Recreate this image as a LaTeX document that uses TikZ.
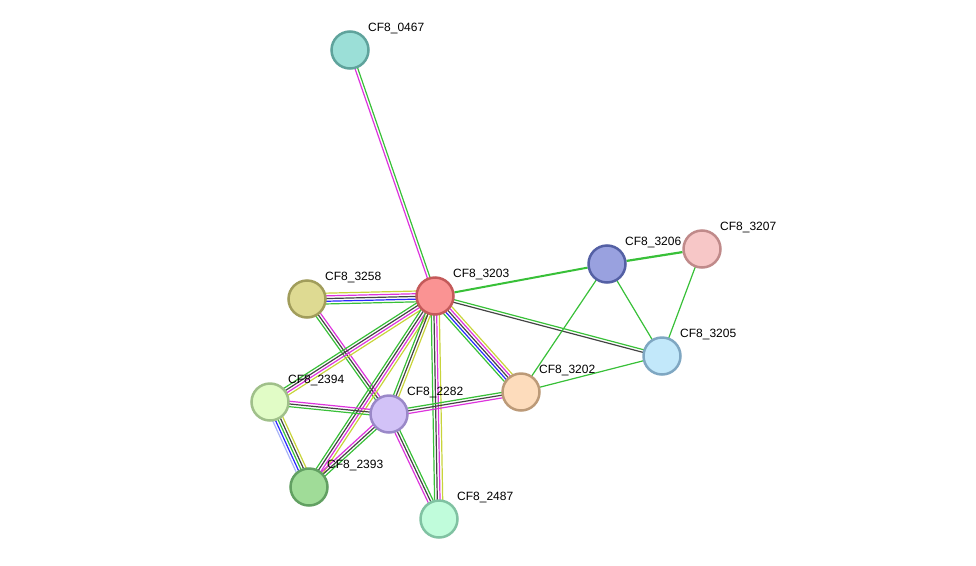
\documentclass[tikz,border=0pt]{standalone}
\usepackage{fontspec}
\setmainfont{Liberation Sans}
\usetikzlibrary{calc,backgrounds}

\begin{document}
\begin{tikzpicture}[x=1pt,y=-1pt,
  prot/.style={circle,draw,line width=2.5pt,minimum size=37pt,inner sep=0pt},
  lbl/.style={anchor=west,inner sep=0pt,font=\fontsize{12}{14}\selectfont},
  edge/.style={line width=1.2pt}]
  \definecolor{egrn}{HTML}{38C038}
  \definecolor{emag}{HTML}{DD33DD}
  \definecolor{ecoe}{HTML}{444444}
  \definecolor{etxt}{HTML}{C8D43A}
  \definecolor{eblu}{HTML}{2A2AFF}
  \definecolor{edbs}{HTML}{A8B4F8}
  \def\gap{2.7}
  % \bundle{from}{to}{colours, one parallel line each}
  \newcommand{\bundle}[3]{%
    \foreach \col [count=\i] in {#3}{\xdef\nb{\i}}
    \foreach \col [count=\i] in {#3}{
      \pgfmathsetmacro{\off}{(\i-(\nb+1)/2)*\gap}
      \draw[edge,\col] let \p1=($(#2)-(#1)$), \n1={atan2(\y1,\x1)+90} in
        ($(#1)+(\n1:\off pt)$) -- ($(#2)+(\n1:\off pt)$);}}
  \useasboundingbox (0,0) rectangle (976,565);

  % the proteins
  \foreach \n/\x/\y/\f/\b in {0467/350/50/9BDFD7/5FA39C,
      3203/435/296/FA9393/C45A5A, 3258/307/299/DEDA92/A19D5B,
      3206/607/264/99A1DF/5460A4, 3207/702/249/F7C7C7/C08A8A,
      3205/662/356/C2E8FA/7FA7C2, 3202/521/392/FDDCBC/BC9A78,
      2394/270/402/E1FCC6/A0C08A, 2282/389/414/D2C2F7/9A88C8,
      2393/309/487/A0DC98/62A062, 2487/439/519/C0FCDB/80C2A2}{
    \definecolor{f\n}{HTML}{\f}
    \definecolor{b\n}{HTML}{\b}
    \node[prot,fill=f\n,draw=b\n] (n\n) at (\x,\y) {};
    \node[lbl] (l\n) at ($(n\n)+(18,-21.5)$) {CF8\_\n};}

  % the interactions
  \begin{scope}[on background layer]
    \bundle{n0467}{n3203}{emag,egrn}
    \bundle{n3258}{n3203}{egrn,eblu,ecoe,emag,etxt}
    \bundle{n3258}{n2282}{egrn,ecoe,emag}
    \bundle{n3203}{n2394}{egrn,ecoe,emag,etxt}
    \bundle{n3203}{n2393}{egrn,ecoe,emag,etxt}
    \bundle{n3203}{n2282}{egrn,ecoe,etxt}
    \bundle{n3203}{n2487}{egrn,ecoe,emag,etxt}
    \bundle{n3203}{n3202}{egrn,eblu,ecoe,emag,etxt}
    \bundle{n3203}{n3205}{ecoe,egrn}
    \draw[edge,egrn,line width=2pt] (n3203) -- (n3206);
    \draw[edge,egrn,line width=2.2pt] (n3206) -- (n3207);
    \bundle{n3206}{n3205}{egrn}
    \bundle{n3206}{n3202}{egrn}
    \bundle{n3207}{n3205}{egrn}
    \bundle{n3202}{n3205}{egrn}
    \bundle{n2282}{n3202}{emag,ecoe,egrn}
    \bundle{n2394}{n2282}{egrn,ecoe,emag}
    \bundle{n2394}{n2393}{edbs,eblu,egrn,ecoe,etxt}
    \bundle{n2282}{n2487}{emag,ecoe,egrn}
    \bundle{n2393}{n2282}{egrn,ecoe,emag}
  \end{scope}
\end{tikzpicture}
\end{document}
